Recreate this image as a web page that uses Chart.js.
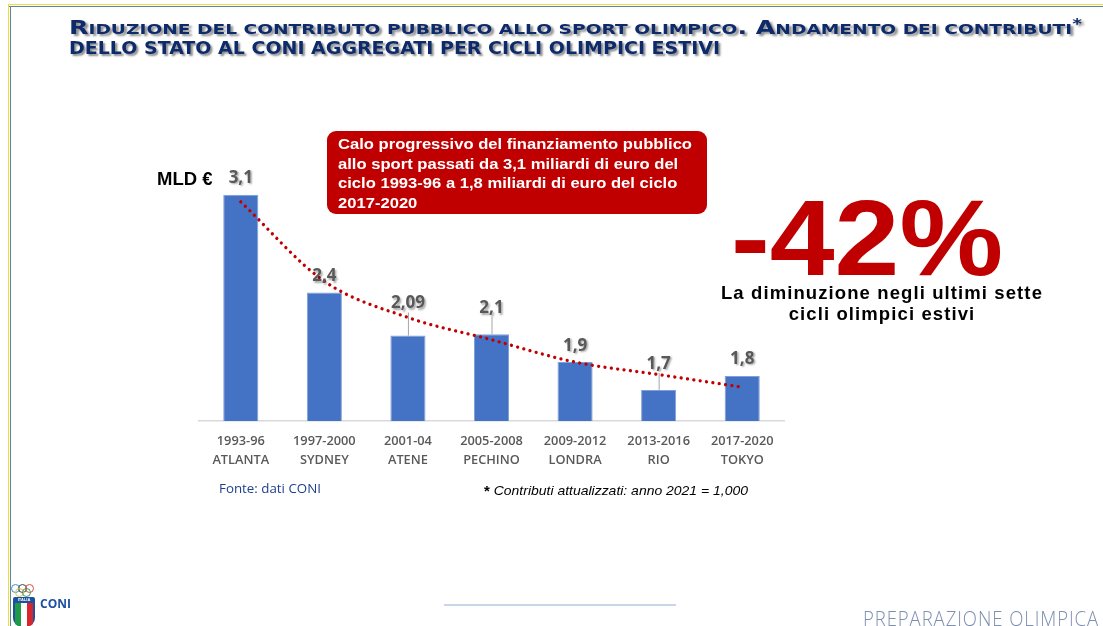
<!DOCTYPE html>
<html>
<head>
<meta charset="utf-8">
<script src="https://cdn.jsdelivr.net/npm/chart.js@4.4.1/dist/chart.umd.min.js"></script>
<style>
  html,body{margin:0;padding:0;background:#fff;}
  body{width:1103px;height:626px;position:relative;overflow:hidden;font-family:"Liberation Sans",Arial,sans-serif;}
  #c{position:absolute;left:0;top:0;}
  .abs{position:absolute;white-space:nowrap;}
  .frameY{position:absolute;background:#e8e22a;}
  .frameB{position:absolute;background:#5b7fb8;}
  .title{font-family:"DejaVu Sans",sans-serif;font-weight:bold;color:#0d2a6b;
         text-shadow:2px 2px 2px rgba(0,0,0,0.45);transform-origin:0 0;line-height:1;}
  .big{font-size:19px;}
  .sm{font-size:14px;}
  #redbox{left:327px;top:131px;width:380px;height:83px;background:#c00000;border-radius:9px;}
  #redtext{left:338px;top:134px;color:#fff;font-weight:bold;font-size:15.5px;line-height:19.6px;transform-origin:0 0;}
  #pct{left:731px;top:184px;color:#c00000;font-weight:bold;font-size:108px;line-height:1;transform-origin:0 0;}
  #dimi{left:682px;top:283px;width:400px;text-align:center;font-weight:bold;font-size:18.5px;letter-spacing:1.1px;line-height:20.5px;color:#000;}
  #mld{left:157px;top:168px;font-weight:bold;font-size:18.5px;color:#000;}
  #fonte{left:219px;top:479px;font-family:"Open Sans",sans-serif;font-size:13.3px;color:#1f3f8f;transform-origin:0 0;}
  #nota{left:484px;top:483px;font-style:italic;font-size:13px;color:#000;transform-origin:0 0;}
  #nota b{font-style:normal;font-size:14px;vertical-align:-1px;}
  #hline{left:444px;top:604px;width:232px;height:2px;background:#c9d6ea;}
  #prep{left:863px;top:609px;font-family:"Open Sans",sans-serif;font-weight:300;font-size:20px;letter-spacing:1px;color:#7d8fb0;transform-origin:0 0;line-height:1;}
  .ring{position:absolute;width:9px;height:9px;border-radius:50%;border:1.3px solid;box-sizing:border-box;}
  #shield{left:13px;top:597px;width:22px;height:30px;border-radius:2px 2px 9px 9px;overflow:hidden;background:#1d4fa3;}
  #coni{left:40px;top:595px;font-family:"Open Sans",sans-serif;font-weight:bold;font-size:12px;color:#1d4fa3;}
</style>
</head>
<body>
<canvas id="c" width="1103" height="626"></canvas>

<!-- slide frame -->
<div class="frameY" style="left:8px;top:4px;width:1095px;height:1px;"></div>
<div class="frameB" style="left:9px;top:6px;width:1094px;height:1px;"></div>
<div class="frameY" style="left:8px;top:4px;width:1px;height:622px;"></div>
<div class="frameB" style="left:10px;top:6px;width:1px;height:620px;"></div>

<div id="t1" class="abs title" style="left:69px;top:16px;font-size:19px;"><span class="big">R</span><span class="sm">IDUZIONE DEL CONTRIBUTO PUBBLICO ALLO SPORT OLIMPICO</span><span class="big">. A</span><span class="sm">NDAMENTO DEI CONTRIBUTI</span><span class="sm" style="vertical-align:6px;">*</span></div>
<div id="t2" class="abs title" style="left:69px;top:39px;font-size:18.5px;">DELLO STATO AL CONI AGGREGATI PER CICLI OLIMPICI ESTIVI</div>

<div id="redbox" class="abs"></div>
<div id="redtext" class="abs">Calo progressivo del finanziamento pubblico<br>allo sport passati da 3,1 miliardi di euro del<br>ciclo 1993-96 a 1,8 miliardi di euro del ciclo<br>2017-2020</div>

<div id="pct" class="abs">-42%</div>
<div id="dimi" class="abs">La diminuzione negli ultimi sette<br>cicli olimpici estivi</div>

<div id="mld" class="abs">MLD €</div>
<div id="fonte" class="abs">Fonte: dati CONI</div>
<div id="nota" class="abs"><b>*</b> Contributi attualizzati: anno 2021 = 1,000</div>

<div id="hline" class="abs"></div>
<div id="prep" class="abs">PREPARAZIONE OLIMPICA</div>

<!-- CONI logo -->
<div class="ring" style="left:11px;top:584px;border-color:#3b8ed8;"></div>
<div class="ring" style="left:18px;top:584px;border-color:#444;"></div>
<div class="ring" style="left:25px;top:584px;border-color:#e04848;"></div>
<div class="ring" style="left:14.5px;top:588px;border-color:#e8c23a;"></div>
<div class="ring" style="left:21.5px;top:588px;border-color:#3aa05a;"></div>
<div id="shield" class="abs">
  <div style="position:absolute;left:2px;top:6px;width:6px;height:24px;background:#1e9a48;"></div>
  <div style="position:absolute;left:8px;top:6px;width:6px;height:24px;background:#fff;"></div>
  <div style="position:absolute;left:14px;top:6px;width:6px;height:24px;background:#d7262e;"></div>
  <div style="position:absolute;left:0;top:0;width:22px;height:6px;color:#fff;font-size:4px;line-height:6px;text-align:center;font-weight:bold;">ITALIA</div>
</div>
<div id="coni" class="abs">CONI</div>

<script>
// ---- data ----
const categories = [
  ["1993-96", "ATLANTA"],
  ["1997-2000", "SYDNEY"],
  ["2001-04", "ATENE"],
  ["2005-2008", "PECHINO"],
  ["2009-2012", "LONDRA"],
  ["2013-2016", "RIO"],
  ["2017-2020", "TOKYO"]
];
const contributi = [3.1, 2.4, 2.09, 2.1, 1.9, 1.7, 1.8];
const trendLine = [3.05, 2.48, 2.22, 2.06, 1.90, 1.81, 1.72];

// fit text blocks to the reference widths
function fitWidth(id, w){
  const el = document.getElementById(id);
  const cur = el.getBoundingClientRect().width;
  el.style.transform = 'scaleX(' + (w / cur) + ')';
}
fitWidth('t1', 1013);
fitWidth('t2', 651);
fitWidth('prep', 236);
fitWidth('pct', 272);
fitWidth('redtext', 354);
fitWidth('fonte', 102);
fitWidth('nota', 264);

const valueLabels = {
  id: 'valueLabels',
  afterDatasetsDraw(chart, args, opts) {
    const meta = chart.getDatasetMeta(1);
    const ctx = chart.ctx;
    meta.data.forEach((bar, i) => {
      const x = bar.x, top = bar.y;
      const ly = top - opts.lift[i];
      if (opts.leader[i]) {
        ctx.save();
        ctx.strokeStyle = '#a6a6a6';
        ctx.lineWidth = 1;
        ctx.beginPath();
        ctx.moveTo(x + 0.5, ly + 9);
        ctx.lineTo(x + 0.5, top);
        ctx.stroke();
        ctx.restore();
      }
      ctx.save();
      ctx.font = 'bold 17px "Open Sans", sans-serif';
      ctx.fillStyle = '#595959';
      ctx.textAlign = 'center';
      ctx.textBaseline = 'middle';
      ctx.shadowColor = 'rgba(0,0,0,0.35)';
      ctx.shadowOffsetX = 1.5;
      ctx.shadowOffsetY = 1.5;
      ctx.shadowBlur = 2;
      ctx.fillText(String(contributi[i]).replace('.', ','), x, ly);
      ctx.restore();
    });
  }
};

new Chart(document.getElementById('c'), {
  data: {
    labels: categories,
    datasets: [
      {
        type: 'line',
        data: trendLine,
        borderColor: '#c00000',
        borderWidth: 3.3,
        borderDash: [0.01, 6.4],
        borderCapStyle: 'round',
        pointRadius: 0,
        fill: false,
        cubicInterpolationMode: 'monotone',
        order: 0
      },
      {
        type: 'bar',
        data: contributi,
        backgroundColor: '#4472c4',
        borderColor: '#7f9fd8',
        borderWidth: 1,
        barPercentage: 0.42,
        categoryPercentage: 1,
        order: 1
      }
    ]
  },
  options: {
    responsive: false,
    animation: false,
    layout: { padding: { left: 199, right: 319, top: 150, bottom: 0 } },
    plugins: {
      legend: { display: false },
      tooltip: { enabled: false },
      valueLabels: {
        lift: [17, 16, 32, 26, 16, 26, 17],
        leader: [false, false, true, true, false, true, false]
      }
    },
    scales: {
      x: {
        grid: { display: false, drawTicks: false },
        border: { display: true, color: '#d9d9d9', width: 1.5 },
        ticks: {
          color: '#595959',
          font: { family: '"Open Sans", sans-serif', size: 12.8, weight: '600', lineHeight: 1.5 },
          padding: 11,
          maxRotation: 0,
          autoSkip: false
        },
        afterFit: s => { s.height = 205; }
      },
      y: { display: false, min: 1.477, max: 3.422 }
    }
  },
  plugins: [valueLabels]
});
</script>
</body>
</html>
